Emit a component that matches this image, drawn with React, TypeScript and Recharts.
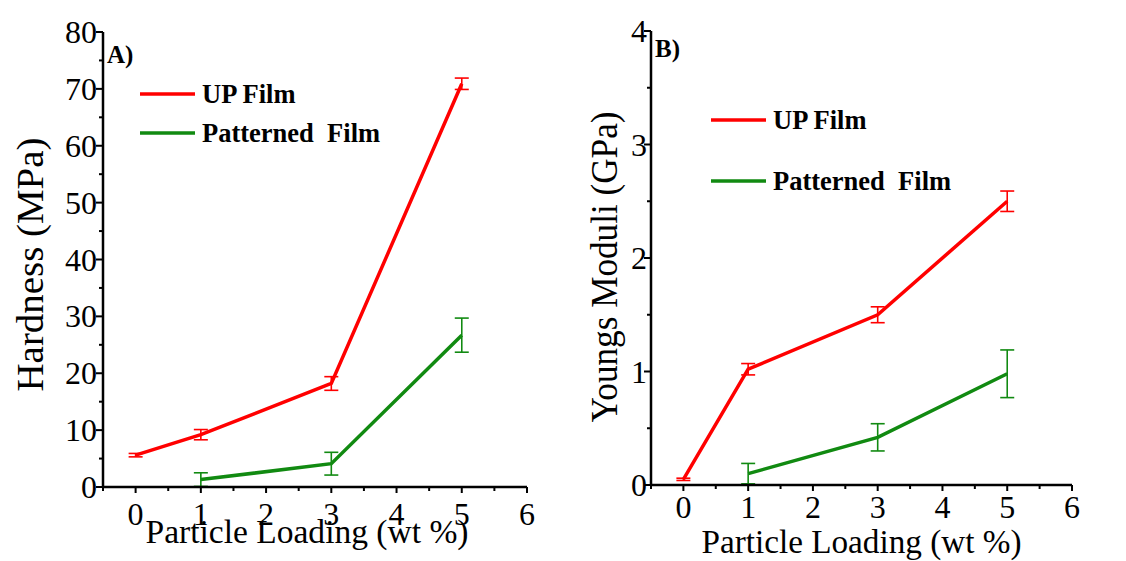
import React from 'react';
import { LineChart, Line, XAxis, YAxis, ErrorBar, Legend, Label } from 'recharts';

// particle loading (wt %)
const upLoadings = [0, 1, 3, 5];
const patternedLoadings = [1, 3, 5];

// A) hardness (MPa)
const upHardness = [5.6, 9.2, 18.2, 70.9];
const upHardnessErr = [0.3, 0.9, 1.2, 1.0];
const patternedHardness = [1.3, 4.1, 26.7];
const patternedHardnessErr = [1.2, 2.0, 3.0];

// B) youngs moduli (GPa)
const upModulus = [0.05, 1.02, 1.5, 2.5];
const upModulusErr = [0.01, 0.05, 0.07, 0.09];
const patternedModulus = [0.1, 0.42, 0.98];
const patternedModulusErr = [0.09, 0.12, 0.21];

const xTicks = [-0.5, 0, 0.5, 1, 1.5, 2, 2.5, 3, 3.5, 4, 4.5, 5, 5.5, 6];
const hardnessTicks = [0, 5, 10, 15, 20, 25, 30, 35, 40, 45, 50, 55, 60, 65, 70, 75, 80];
const modulusTicks = [0, 0.5, 1, 1.5, 2, 2.5, 3, 3.5, 4];

const seriesNames = ['UP Film', 'Patterned  Film'];
const seriesColors = ['#ff0000', '#118a11'];

const SERIF = '"Liberation Serif", "Times New Roman", serif';

const toRows = (xs: number[], ys: number[], errs: number[]) =>
  xs.map((x, i) => ({ x, y: ys[i], err: errs[i] }));

const isMajor = (v: number, step: number) => Math.abs(v / step - Math.round(v / step)) < 1e-6;

const YTick = ({ x, y, payload, step, gap }: any) => {
  const major = isMajor(payload.value, step);
  return (
    <g>
      <line x1={x} x2={x - (major ? 7 : 4)} y1={y} y2={y} stroke="#000" strokeWidth={2} />
      {major && (
        <text x={x - gap} y={y + 11} textAnchor="end" fontSize={32} fontFamily={SERIF} fill="#000">
          {payload.value}
        </text>
      )}
    </g>
  );
};

const XTick = ({ x, y, payload, baseline }: any) => {
  const major = isMajor(payload.value, 1);
  return (
    <g>
      <line x1={x} x2={x} y1={y} y2={y + (major ? 6 : 4)} stroke="#000" strokeWidth={2} />
      {major && payload.value >= 0 && (
        <text x={x} y={y + baseline} textAnchor="middle" fontSize={32} fontFamily={SERIF} fill="#000">
          {payload.value}
        </text>
      )}
    </g>
  );
};

const FilmLegend = ({ gap }: { gap: number }) => (
  <div style={{ display: 'flex', flexDirection: 'column', rowGap: gap }}>
    {seriesNames.map((name, i) => (
      <div key={name} style={{ display: 'flex', alignItems: 'center', height: 30 }}>
        <svg width={55} height={6}>
          <line x1={0} y1={3} x2={55} y2={3} stroke={seriesColors[i]} strokeWidth={3.5} strokeLinecap="round" />
        </svg>
        <span
          style={{
            marginLeft: 7,
            fontFamily: SERIF,
            fontWeight: 'bold',
            fontSize: 26.5,
            whiteSpace: 'pre',
            color: '#000',
          }}
        >
          {name}
        </span>
      </div>
    ))}
  </div>
);

interface PanelProps {
  tag: string;
  width: number;
  margin: { top: number; right: number; left: number; bottom: number };
  xAxisHeight: number;
  xTickBaseline: number;
  xTitleDx: number;
  xTitleBaseline: number;
  xTitleLength: number;
  yDomain: [number, number];
  yTicks: number[];
  yStep: number;
  yTickGap: number;
  yTitle: string;
  yTitleX: number;
  yTitleDy: number;
  yTitleLength: number;
  legendLeft: number;
  legendTop: number;
  legendGap: number;
  up: { x: number; y: number; err: number }[];
  patterned: { x: number; y: number; err: number }[];
}

const Panel = (p: PanelProps) => (
  <div style={{ position: 'relative', width: p.width, height: 561 }}>
    <LineChart width={p.width} height={561} margin={p.margin}>
      <XAxis
        type="number"
        dataKey="x"
        domain={[-0.5, 6]}
        ticks={xTicks}
        interval={0}
        height={p.xAxisHeight}
        tickSize={0}
        tickMargin={0}
        tickLine={false}
        axisLine={{ stroke: '#000', strokeWidth: 2.5 }}
        tick={(props: any) => <XTick {...props} baseline={p.xTickBaseline} />}
      >
        <Label
          content={({ viewBox }: any) => (
            <text
              x={viewBox.x + viewBox.width / 2 + p.xTitleDx}
              y={viewBox.y + p.xTitleBaseline}
              textAnchor="middle"
              fontSize={33.5}
              fontFamily={SERIF}
              textLength={p.xTitleLength}
              lengthAdjust="spacingAndGlyphs"
              fill="#000"
            >
              Particle Loading (wt %)
            </text>
          )}
        />
      </XAxis>
      <YAxis
        type="number"
        domain={p.yDomain}
        ticks={p.yTicks}
        interval={0}
        allowDataOverflow
        width={90}
        tickSize={0}
        tickMargin={0}
        tickLine={false}
        axisLine={{ stroke: '#000', strokeWidth: 2.5 }}
        tick={(props: any) => <YTick {...props} step={p.yStep} gap={p.yTickGap} />}
      >
        <Label
          content={({ viewBox }: any) => {
            const cx = viewBox.x + p.yTitleX;
            const cy = viewBox.y + viewBox.height / 2 + p.yTitleDy;
            return (
              <text
                x={cx}
                y={cy}
                transform={`rotate(-90 ${cx} ${cy})`}
                textAnchor="middle"
                fontSize={37}
                fontFamily={SERIF}
                textLength={p.yTitleLength}
                lengthAdjust="spacingAndGlyphs"
                fill="#000"
              >
                {p.yTitle}
              </text>
            );
          }}
        />
      </YAxis>
      <Legend
        layout="horizontal"
        verticalAlign="middle"
        align="center"
        wrapperStyle={{ left: p.legendLeft, top: p.legendTop, width: 'auto' }}
        content={() => <FilmLegend gap={p.legendGap} />}
      />
      <Line
        data={p.up}
        dataKey="y"
        name={seriesNames[0]}
        type="linear"
        stroke={seriesColors[0]}
        strokeWidth={3.5}
        dot={false}
        isAnimationActive={false}
      >
        <ErrorBar dataKey="err" direction="y" width={7} stroke={seriesColors[0]} strokeWidth={1.6} />
      </Line>
      <Line
        data={p.patterned}
        dataKey="y"
        name={seriesNames[1]}
        type="linear"
        stroke={seriesColors[1]}
        strokeWidth={3.5}
        dot={false}
        isAnimationActive={false}
      >
        <ErrorBar dataKey="err" direction="y" width={7} stroke={seriesColors[1]} strokeWidth={1.6} />
      </Line>
    </LineChart>
    <svg style={{ position: 'absolute', left: 0, top: 0, pointerEvents: 'none' }} width={p.width} height={120}>
      <text
        x={p.margin.left + 90 + 4}
        y={p.tag === 'A)' ? 63 : 57}
        fontSize={25}
        fontWeight="bold"
        fontFamily={SERIF}
        fill="#000"
      >
        {p.tag}
      </text>
    </svg>
  </div>
);

export default function App() {
  return (
    <div
      style={{
        position: 'absolute',
        left: 0,
        top: 0,
        width: 1126,
        height: 561,
        background: '#fff',
        display: 'flex',
      }}
    >
      <Panel
        tag="A)"
        width={560}
        margin={{ top: 32, right: 33, left: 13, bottom: 0 }}
        xAxisHeight={74}
        xTickBaseline={38}
        xTitleDx={-8}
        xTitleBaseline={56}
        xTitleLength={323}
        yDomain={[0, 80]}
        yTicks={hardnessTicks}
        yStep={10}
        yTickGap={6}
        yTitle="Hardness (MPa)"
        yTitleX={30}
        yTitleDy={5}
        yTitleLength={254}
        legendLeft={140}
        legendTop={79}
        legendGap={9}
        up={toRows(upLoadings, upHardness, upHardnessErr)}
        patterned={toRows(patternedLoadings, patternedHardness, patternedHardnessErr)}
      />
      <Panel
        tag="B)"
        width={566}
        margin={{ top: 31, right: 54, left: 1, bottom: 0 }}
        xAxisHeight={76}
        xTickBaseline={33}
        xTitleDx={0}
        xTitleBaseline={68}
        xTitleLength={320}
        yDomain={[0, 4]}
        yTicks={modulusTicks}
        yStep={1}
        yTickGap={4}
        yTitle="Youngs Moduli (GPa)"
        yTitleX={56}
        yTitleDy={9}
        yTitleLength={311}
        legendLeft={151}
        legendTop={105}
        legendGap={31}
        up={toRows(upLoadings, upModulus, upModulusErr)}
        patterned={toRows(patternedLoadings, patternedModulus, patternedModulusErr)}
      />
    </div>
  );
}
